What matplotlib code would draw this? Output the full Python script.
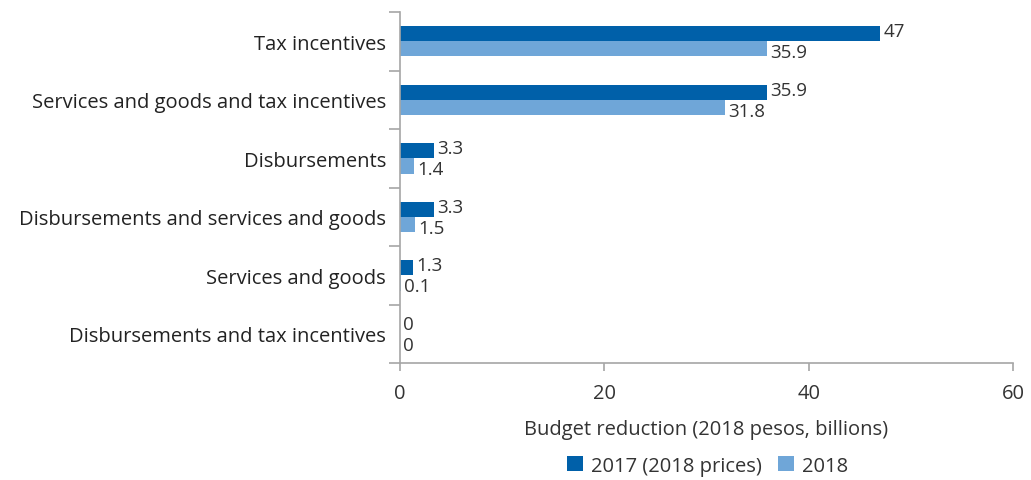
import matplotlib
matplotlib.use('Agg')
import matplotlib.pyplot as plt
import numpy as np

plt.rcParams['font.family'] = ['Open Sans', 'DejaVu Sans']

# categories top to bottom
categories = ['Tax incentives', 'Services and goods and tax incentives', 'Disbursements',
              'Disbursements and services and goods', 'Services and goods',
              'Disbursements and tax incentives']
vals_2017 = [47, 35.9, 3.3, 3.3, 1.3, 0]
vals_2018 = [35.9, 31.8, 1.4, 1.5, 0.1, 0]
labels_2017 = ['47', '35.9', '3.3', '3.3', '1.3', '0']
labels_2018 = ['35.9', '31.8', '1.4', '1.5', '0.1', '0']

dark = '#0060A9'
light = '#6FA6D8'
grey = '#A6A6A6'
fs = 14.5

fig = plt.figure(figsize=(10.31, 4.81), dpi=100)
ax = fig.add_axes([0.388, 0.243, 0.5945, 0.730])

n = len(categories)
y = np.arange(n)
h = 0.26
ax.barh(y - h / 2, vals_2017, height=h, color=dark, label='2017 (2018 prices)')
ax.barh(y + h / 2, vals_2018, height=h, color=light, label='2018')

# value labels, nudged apart a little so the stacked pairs don't collide
for i in range(n):
    ax.text(vals_2017[i] + 0.3, y[i] - h / 2 - 0.04, labels_2017[i], va='center', ha='left',
            fontsize=13.5, color='#333333')
    ax.text(vals_2018[i] + 0.3, y[i] + h / 2 + 0.06, labels_2018[i], va='center', ha='left',
            fontsize=13.5, color='#333333')

ax.set_ylim(n - 0.5, -0.5)
ax.set_xlim(0, 60)
ax.set_xticks([0, 20, 40, 60])
ax.set_yticks(y)
ax.set_yticklabels(categories, fontsize=fs, color='#222222')
ax.set_yticks(np.arange(-0.5, n, 1), minor=True)
ax.tick_params(axis='y', which='major', length=0, pad=10)
ax.tick_params(axis='y', which='minor', length=8, color=grey, width=1.2)
ax.tick_params(axis='x', length=6, color=grey, width=1.2, labelsize=fs,
               labelcolor='#333333', pad=8)

for s in ['top', 'right']:
    ax.spines[s].set_visible(False)
for s in ['left', 'bottom']:
    ax.spines[s].set_color(grey)
    ax.spines[s].set_linewidth(1.2)

ax.set_xlabel('Budget reduction (2018 pesos, billions)', fontsize=fs, color='#333333',
              labelpad=12)

fig.legend(loc='center', bbox_to_anchor=(0.686, 0.03), ncol=2, frameon=False,
           fontsize=fs, handlelength=0.8, handleheight=0.8, handletextpad=0.4,
           columnspacing=0.8, labelcolor='#333333')

fig.savefig('out.png', dpi=100)
